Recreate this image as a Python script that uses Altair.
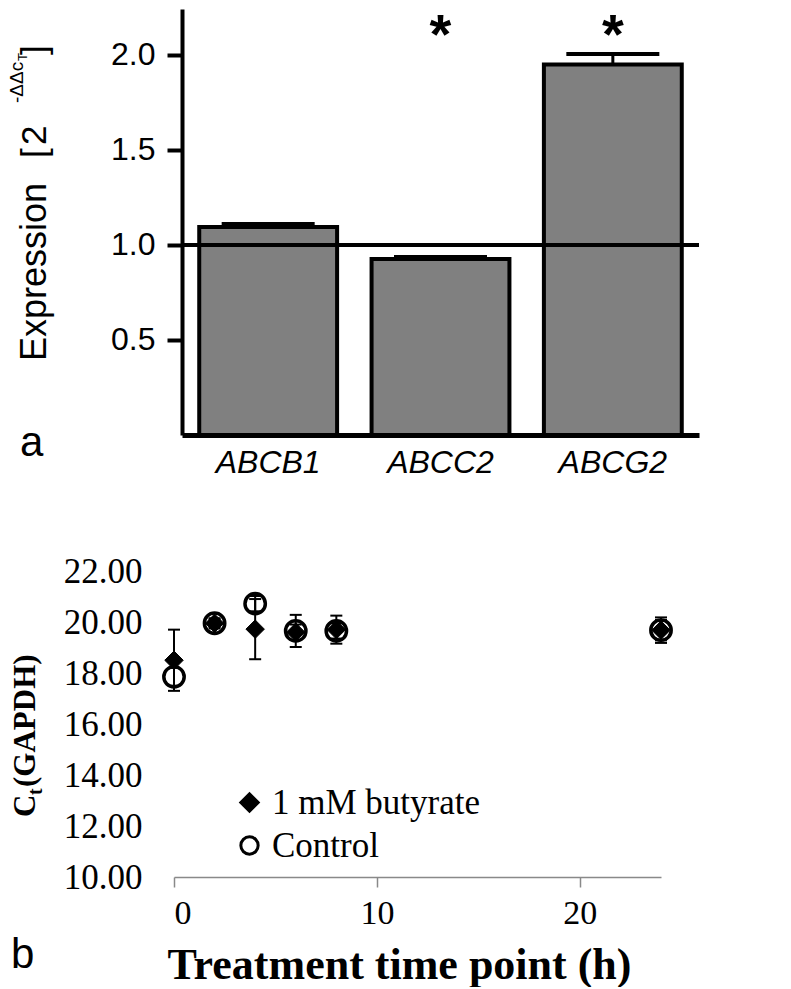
import altair as alt
import pandas as pd

# ---- panel a data ----
genes = ["ABCB1", "ABCC2", "ABCG2"]
expression = [1.095, 0.926, 1.95]
expression_err = [0.015, 0.011, 0.055]
significance = ["", "*", "*"]

# ---- panel b data ----
times = [0, 2, 4, 6, 8, 24]
series_names = ["1 mM butyrate", "Control"]
butyrate = [18.5, 19.95, 19.72, 19.6, 19.7, 19.68]
butyrate_err = [1.2, 0.15, 1.18, 0.3, 0.55, 0.5]
control = [17.85, 19.95, 20.72, 19.65, 19.65, 19.68]
control_err = [0.35, 0.2, 0.3, 0.63, 0.3, 0.4]
y_ticks_b = [10, 12, 14, 16, 18, 20, 22]
x_ticks_b = [0, 10, 20]

SANS = "Liberation Sans"
SERIF = "Liberation Serif"

dfa = pd.DataFrame({"gene": genes, "expr": expression, "err": expression_err, "sig": significance})
dfa["top"] = dfa["expr"] + dfa["err"]

xa = alt.X("gene:N", sort=genes,
           scale=alt.Scale(paddingInner=0.2, paddingOuter=0.1),
           axis=alt.Axis(title=None, ticks=False, tickSize=0, labelFont=SANS, labelFontSize=32,
                         labelFontStyle="italic", labelColor="black", labelPadding=12,
                         labelAngle=0, domainColor="black", domainWidth=5))
ya_scale = alt.Scale(domain=[0, 2.242], nice=False, zero=True)
ya_axis = alt.Axis(title=None, values=[0.5, 1.0, 1.5, 2.0], format=".1f", grid=False,
                   labelFont=SANS, labelFontSize=32, labelColor="black", labelPadding=12,
                   tickSize=15, tickWidth=4, tickColor="black", domainColor="black", domainWidth=4)

base_a = alt.Chart(dfa)
bars = base_a.mark_bar(fill="#808080", stroke="black", strokeWidth=4).encode(
    x=xa, y=alt.Y("expr:Q", scale=ya_scale, axis=ya_axis))
err_a = base_a.mark_rule(color="black", strokeWidth=3).encode(
    x=alt.X("gene:N", sort=genes), y="expr:Q", y2="top:Q")
cap_a = base_a.mark_tick(color="black", size=93, thickness=4, orient="horizontal", opacity=1).encode(
    x=alt.X("gene:N", sort=genes), y="top:Q")
ref_line = alt.Chart(pd.DataFrame({"ref": [1.0]})).mark_rule(color="black", strokeWidth=4).encode(y="ref:Q")
stars = base_a.mark_text(font=SANS, fontSize=56, fontWeight="bold", color="black",
                         baseline="top", align="center").encode(
    x=alt.X("gene:N", sort=genes), y=alt.value(0), text="sig:N")


def txt(text, x, y, size, angle=270, weight="normal", font=SANS):
    return alt.Chart(pd.DataFrame({"t": [text]})).mark_text(
        font=font, fontSize=size, fontWeight=weight, angle=angle, align="left",
        baseline="alphabetic", color="black").encode(
        x=alt.value(x), y=alt.value(y), text="t:N")


title_a = [
    txt("Expression", -136, 352, 36),
    txt("[", -136, 149, 35),
    txt("2", -136, 136, 35),
    txt("-ΔΔc", -159, 94, 19),
    txt("T", -155, 52, 13),
    txt("]", -136, 46, 35),
    txt("a", -162, 447, 42, angle=0),
]

panel_a = alt.layer(bars, err_a, cap_a, ref_line, stars, *title_a).properties(width=517, height=426)

# ---- panel b ----
rows = []
for s, vals, errs in [("Control", control, control_err), ("1 mM butyrate", butyrate, butyrate_err)]:
    for t, v, e in zip(times, vals, errs):
        rows.append({"series": s, "time": t, "ct": v, "lo": v - e, "hi": v + e})
dfb = pd.DataFrame(rows)

xb_scale = alt.Scale(domain=[0, 24], range=[-8, 479], nice=False)
yb_scale = alt.Scale(domain=[10, 22], nice=False, zero=False)
xb_axis = alt.Axis(title="Treatment time point (h)", values=x_ticks_b, grid=False,
                   labelFont=SERIF, labelFontSize=34, labelColor="black", labelPadding=9,
                   tickSize=10, tickWidth=1.5, tickColor="#898989",
                   domainColor="#898989", domainWidth=1.5,
                   titleFont=SERIF, titleFontSize=44, titleFontWeight="bold", titleColor="black",
                   titleX=217, titleY=101, titleBaseline="alphabetic", titleAlign="center")
yb_axis = alt.Axis(title=None, values=y_ticks_b, format=".2f", grid=False, domain=False,
                   ticks=False, tickSize=0, labelFont=SERIF, labelFontSize=35,
                   labelColor="black", labelPadding=40)

leg = alt.Legend(title=None, orient="none", legendX=50, legendY=776,
                 labelFont=SERIF, labelFontSize=35, labelColor="black", labelLimit=500,
                 symbolSize=300, symbolStrokeWidth=3, symbolStrokeColor="black",
                 labelOffset=5, rowPadding=7, padding=0)
shape_enc = alt.Shape("series:N", scale=alt.Scale(domain=series_names, range=["diamond", "circle"]), legend=leg)
fill_enc = alt.Fill("series:N", scale=alt.Scale(domain=series_names, range=["black", "white"]), legend=leg)
stroke_enc = alt.Stroke("series:N", scale=alt.Scale(domain=series_names, range=["black", "black"]), legend=leg)

base_b = alt.Chart(dfb)
pts_ctrl = base_b.transform_filter(alt.datum.series == "Control").mark_point(
    size=415, strokeWidth=3.5, opacity=1).encode(
    x=alt.X("time:Q", scale=xb_scale, axis=xb_axis),
    y=alt.Y("ct:Q", scale=yb_scale, axis=yb_axis),
    shape=shape_enc, fill=fill_enc, stroke=stroke_enc)
pts_but = base_b.transform_filter(alt.datum.series == "1 mM butyrate").mark_point(
    size=340, strokeWidth=1, opacity=1).encode(
    x=alt.X("time:Q", scale=xb_scale),
    y=alt.Y("ct:Q", scale=yb_scale),
    shape=shape_enc, fill=fill_enc, stroke=stroke_enc)
err_b = base_b.mark_rule(color="black", strokeWidth=2).encode(
    x=alt.X("time:Q", scale=xb_scale),
    y=alt.Y("lo:Q", scale=yb_scale), y2="hi:Q")
cap_lo = base_b.mark_tick(color="black", size=12, thickness=2, orient="horizontal", opacity=1).encode(
    x=alt.X("time:Q", scale=xb_scale), y=alt.Y("lo:Q", scale=yb_scale))
cap_hi = base_b.mark_tick(color="black", size=12, thickness=2, orient="horizontal", opacity=1).encode(
    x=alt.X("time:Q", scale=xb_scale), y=alt.Y("hi:Q", scale=yb_scale))

title_b = [
    txt("C", -147, 246, 31, weight="bold", font=SERIF),
    txt("t", -140, 224, 20, weight="bold", font=SERIF),
    txt(" (GAPDH)", -147, 216, 31, weight="bold", font=SERIF),
    txt("b", -171, 397, 42, angle=0),
]

panel_b = alt.layer(pts_ctrl, pts_but, err_b, cap_lo, cap_hi, *title_b).properties(width=479, height=306)

chart = alt.vconcat(panel_a, panel_b, spacing=76).properties(
    padding={"left": 0, "top": 0, "right": 5, "bottom": 0},
    background="white",
).configure_view(stroke="transparent", strokeWidth=0)

chart.save("out.html", embed_options={"renderer": "svg", "actions": False})
